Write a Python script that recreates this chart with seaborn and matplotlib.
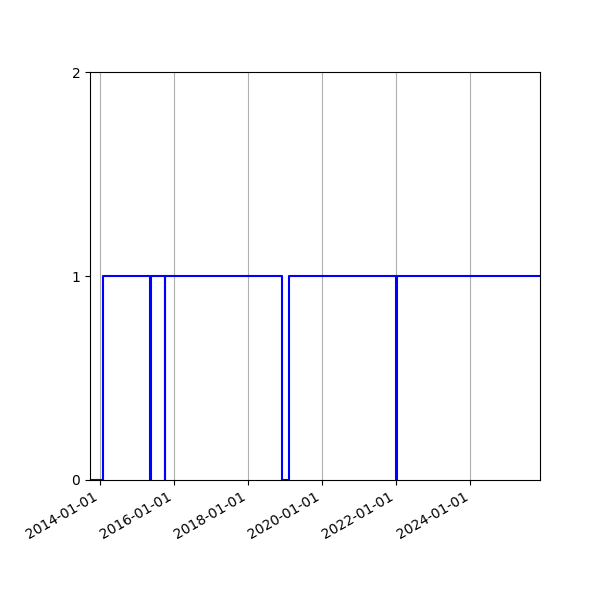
import matplotlib
matplotlib.use("Agg")
import matplotlib.pyplot as plt
import matplotlib.dates as mdates
import pandas as pd
import seaborn as sns

dates = ["2013-09-27", "2014-02-06", "2015-05-10", "2015-05-24", "2015-10-05",
         "2015-10-08", "2018-12-05", "2019-02-13", "2022-01-03", "2022-01-06",
         "2025-11-18"]
values = [0, 1, 0, 1, 0, 1, 0, 1, 0, 1, 1]

df = pd.DataFrame({"date": pd.to_datetime(dates), "value": values})

fig, ax = plt.subplots(figsize=(6, 6), dpi=100)
sns.lineplot(data=df, x="date", y="value", ax=ax, color="blue",
             drawstyle="steps-post", linewidth=1.5)
ax.set_xlim(df["date"].iloc[0], df["date"].iloc[-1])
ax.set_ylim(0, 2)
ax.set_yticks([0, 1, 2])
ax.xaxis.set_major_locator(mdates.YearLocator(2))
ax.xaxis.set_major_formatter(mdates.DateFormatter("%Y-%m-%d"))
ax.grid(axis="x")
ax.set_xlabel("")
ax.set_ylabel("")
fig.autofmt_xdate()
fig.subplots_adjust(left=0.15, right=0.9, top=0.88, bottom=0.2)
fig.savefig("out.png")
